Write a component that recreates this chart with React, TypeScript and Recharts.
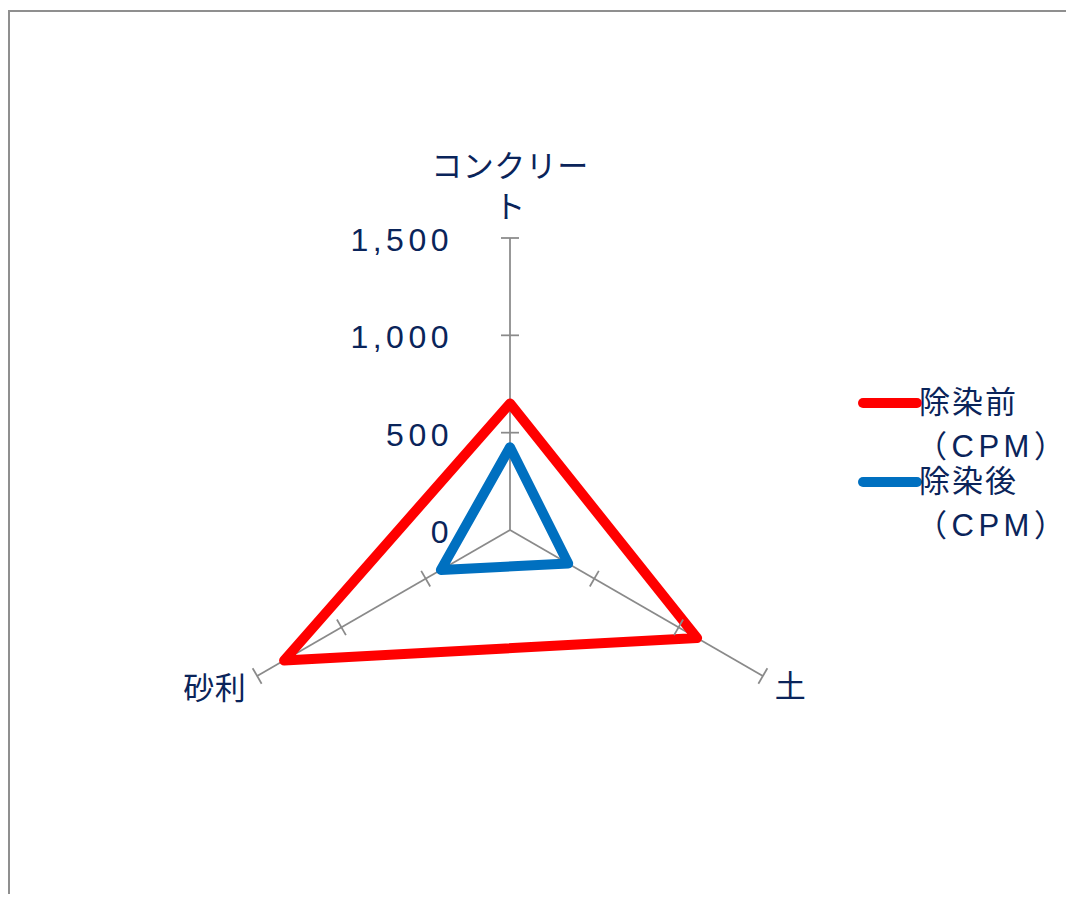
import React from 'react';
import { RadarChart, Radar, PolarGrid, PolarAngleAxis, PolarRadiusAxis, Legend } from 'recharts';

const categories = ['コンクリート', '土', '砂利'];
const beforeValues = [650, 1110, 1340];
const afterValues = [425, 345, 410];
const seriesNames = ['除染前（CPM）', '除染後（CPM）'];
const seriesColors = ['#ff0000', '#0070c0'];
const radiusTicks = [0, 500, 1000, 1500];

const data = categories.map((c, i) => ({ category: c, before: beforeValues[i], after: afterValues[i] }));

const TEXT = '#0a245a';
const GRID = '#8a8a8a';
const FONT = '"Liberation Sans", Arial, "Noto Sans CJK JP", sans-serif';
const CX = 502;
const CY = 522;
const SPOKE_ROTATIONS = [0, 120, -120];

const AngleTick = (props: any) => {
  const { x, y, payload, textAnchor } = props;
  const label: string = String(payload.value);
  if (textAnchor === 'middle') {
    const lines = label.length > 5 ? [label.slice(0, 5), label.slice(5)] : [label];
    const n = lines.length;
    return (
      <g>
        {lines.map((l, i) => (
          <text key={i} x={x} y={y - 23 - (n - 1 - i) * 41} textAnchor="middle" dominantBaseline="central"
            fill={TEXT} fontSize={31} fontFamily={FONT} letterSpacing={0.5}>{l}</text>
        ))}
      </g>
    );
  }
  const dx = textAnchor === 'end' ? -4 : 5;
  const dy = textAnchor === 'end' ? 8 : 6;
  return (
    <text x={x + dx} y={y + dy} textAnchor={textAnchor} dominantBaseline="central"
      fill={TEXT} fontSize={31} fontFamily={FONT} letterSpacing={0.5}>{label}</text>
  );
};

const RadiusTick = (props: any) => {
  const { x, y, payload } = props;
  const cx = typeof props.cx === 'number' ? props.cx : CX;
  const cy = typeof props.cy === 'number' ? props.cy : CY;
  const v = Number(payload.value);
  return (
    <g>
      {v !== 0 && SPOKE_ROTATIONS.map((r) => (
        <line key={r} x1={x - 9} y1={y} x2={x + 9} y2={y} stroke={GRID} strokeWidth={1.75}
          transform={`rotate(${r}, ${cx}, ${cy})`} />
      ))}
      <text x={x - 57} y={y + 2} textAnchor="end" dominantBaseline="central" fill={TEXT}
        fontSize={32} fontFamily={FONT} letterSpacing={4.5}>{v.toLocaleString('en-US')}</text>
    </g>
  );
};

const LegendContent = (props: any) => {
  const { payload } = props;
  return (
    <div style={{ width: 215 }}>
      {(payload || []).map((entry: any, i: number) => {
        const name = String(entry.value);
        const idx = name.indexOf('（');
        const lines = idx > 0 ? [name.slice(0, idx), name.slice(idx)] : [name];
        return (
          <div key={i} style={{ position: 'relative', height: 79 }}>
            <svg width={64} height={14} style={{ position: 'absolute', left: 0, top: 0 }}>
              <line x1={5} y1={7} x2={59} y2={7} stroke={entry.color} strokeWidth={10} strokeLinecap="round" />
            </svg>
            <div style={{ position: 'absolute', left: 61, top: -15, lineHeight: '44px', fontSize: 31, color: TEXT,
              fontFamily: FONT, whiteSpace: 'nowrap' }}>
              {lines.map((l, j) => (
                <div key={j} style={{ letterSpacing: j === 0 ? 2 : 4.5, marginLeft: j === 0 ? 0 : -3 }}>{l}</div>
              ))}
            </div>
          </div>
        );
      })}
    </div>
  );
};

export default function App() {
  return (
    <div style={{ position: 'relative', width: 1066, height: 886, overflow: 'hidden', background: '#fff' }}>
      <div style={{ position: 'absolute', left: 0, top: 2, width: 1200, height: 1000,
        borderTop: '2px solid #8f8f8f', borderLeft: '2px solid #8f8f8f' }} />
      <div style={{ position: 'absolute', left: 0, top: 0 }}>
        <RadarChart width={1066} height={886} data={data} cx={CX} cy={CY} outerRadius={292}
          margin={{ top: 0, right: 0, bottom: 0, left: 0 }}>
          <PolarGrid polarRadius={[]} stroke={GRID} strokeWidth={1.75} />
          <PolarAngleAxis dataKey="category" axisLine={false} tickLine={false} tick={AngleTick} />
          <PolarRadiusAxis angle={90} domain={[0, 1500]} ticks={radiusTicks} type="number"
            axisLine={false} tick={RadiusTick} />
          <Radar name={seriesNames[0]} dataKey="before" stroke={seriesColors[0]} fill="none" fillOpacity={0}
            strokeWidth={10} strokeLinejoin="round" dot={false} isAnimationActive={false} />
          <Radar name={seriesNames[1]} dataKey="after" stroke={seriesColors[1]} fill="none" fillOpacity={0}
            strokeWidth={10} strokeLinejoin="round" dot={false} isAnimationActive={false} />
          <Legend content={LegendContent}
            wrapperStyle={{ position: 'absolute', left: 850, top: 388, width: 215, bottom: 'auto', right: 'auto' }} />
        </RadarChart>
      </div>
    </div>
  );
}
